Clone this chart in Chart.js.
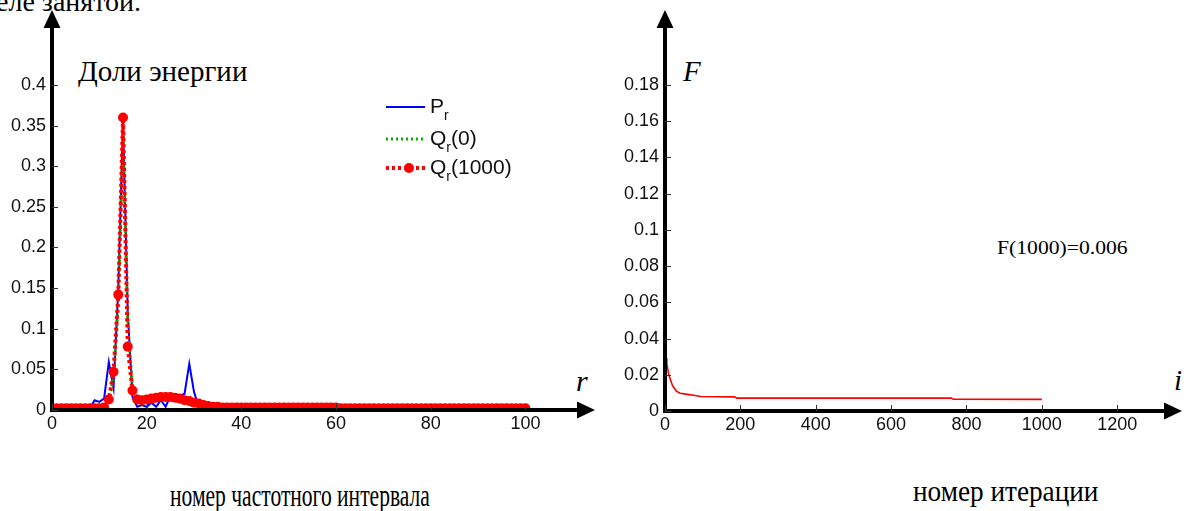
<!DOCTYPE html>
<html>
<head>
<meta charset="utf-8">
<script src="https://cdn.jsdelivr.net/npm/chart.js@4/dist/chart.umd.min.js"></script>
<style>
body { margin: 0; width: 1184px; height: 511px; background: #fff; position: relative; overflow: hidden; font-family: "Liberation Serif", serif; }
.t { position: absolute; white-space: nowrap; color: #000; line-height: 1; transform-origin: left top; }
canvas { position: absolute; top: 0; }
</style>
</head>
<body>
<div class="t" style="left:-4px;top:-12px;font-size:28px">еле занятой.</div>
<div class="t" style="left:78px;top:57px;font-size:29px">Доли энергии</div>
<div class="t" style="left:683px;top:57px;font-size:29px;font-style:italic">F</div>
<div class="t" style="left:576px;top:366px;font-size:30px;font-style:italic">r</div>
<div class="t" style="left:1174px;top:366px;font-size:29px;font-style:italic">i</div>
<div class="t" data-w="131" style="left:997px;top:238px;font-size:19px">F(1000)=0.006</div>
<div class="t" data-w="260" style="left:170px;top:479px;font-size:32px">номер частотного интервала</div>
<div class="t" data-w="185" style="left:913px;top:477px;font-size:29px">номер итерации</div>

<canvas id="energy" width="600" height="440" style="left:0"></canvas>
<canvas id="fconv" width="584" height="441" style="left:600px"></canvas>

<script>
// left chart: energy shares per frequency interval r
const rValues = Array.from({length: 100}, (_, i) => i + 1)

const pR = [
  0.001, 0.001, 0.001, 0.001, 0.002, 0.005, 0.003, 0.002, 0.012, 0.010,
  0.014, 0.059, 0.027, 0.150, 0.356, 0.120, 0.016, 0.004, 0.006, 0.004,
  0.009, 0.004, 0.012, 0.004, 0.017, 0.016, 0.017, 0.020, 0.057, 0.022,
  0.004, 0.002, 0.002, 0.001, 0.001, 0.001, 0.001, 0.001, 0.001, 0.001,
  0.001, 0.001, 0.001, 0.001, 0.001, 0.001, 0.001, 0.001, 0.001, 0.001,
  0.001, 0.001, 0.001, 0.001, 0.001, 0.001, 0.001, 0.001, 0.001, 0.001,
  0.001, 0.001, 0.001, 0.001, 0.001, 0.001, 0.001, 0.001, 0.001, 0.001,
  0.001, 0.001, 0.001, 0.001, 0.001, 0.001, 0.001, 0.001, 0.001, 0.001,
  0.001, 0.001, 0.001, 0.001, 0.001, 0.001, 0.001, 0.001, 0.001, 0.001,
  0.001, 0.001, 0.001, 0.001, 0.001, 0.001, 0.001, 0.001, 0.001, 0.001
]

const qR0 = [
  0.002, 0.002, 0.002, 0.002, 0.002, 0.002, 0.002, 0.002, 0.002, 0.002,
  0.004, 0.012, 0.040, 0.130, 0.340, 0.105, 0.030, 0.012, 0.012, 0.013,
  0.014, 0.015, 0.015, 0.015, 0.015, 0.014, 0.013, 0.011, 0.009, 0.007,
  0.006, 0.005, 0.004, 0.004, 0.003, 0.003, 0.003, 0.003, 0.003, 0.003,
  0.003, 0.003, 0.003, 0.003, 0.003, 0.003, 0.003, 0.003, 0.003, 0.003,
  0.002, 0.002, 0.002, 0.002, 0.002, 0.002, 0.002, 0.002, 0.002, 0.002,
  0.002, 0.002, 0.002, 0.002, 0.002, 0.002, 0.002, 0.002, 0.002, 0.002,
  0.002, 0.002, 0.002, 0.002, 0.002, 0.002, 0.002, 0.002, 0.002, 0.002,
  0.002, 0.002, 0.002, 0.002, 0.002, 0.002, 0.002, 0.002, 0.002, 0.002,
  0.002, 0.002, 0.002, 0.002, 0.002, 0.002, 0.002, 0.002, 0.002, 0.002
]

const qR1000 = [
  0.002, 0.002, 0.002, 0.002, 0.002, 0.002, 0.002, 0.002, 0.002, 0.002,
  0.003, 0.013, 0.047, 0.142, 0.360, 0.078, 0.024, 0.013, 0.012, 0.013,
  0.014, 0.015, 0.016, 0.016, 0.016, 0.015, 0.014, 0.012, 0.011, 0.009,
  0.008, 0.006, 0.005, 0.004, 0.004, 0.003, 0.003, 0.003, 0.003, 0.003,
  0.003, 0.003, 0.003, 0.003, 0.003, 0.003, 0.003, 0.003, 0.003, 0.003,
  0.003, 0.003, 0.003, 0.003, 0.003, 0.003, 0.003, 0.003, 0.003, 0.003,
  0.002, 0.002, 0.002, 0.002, 0.002, 0.002, 0.002, 0.002, 0.002, 0.002,
  0.002, 0.002, 0.002, 0.002, 0.002, 0.002, 0.002, 0.002, 0.002, 0.002,
  0.002, 0.002, 0.002, 0.002, 0.002, 0.002, 0.002, 0.002, 0.002, 0.002,
  0.002, 0.002, 0.002, 0.002, 0.002, 0.002, 0.002, 0.002, 0.002, 0.002
]

const energyXTicks = [0, 20, 40, 60, 80, 100]
const energyYTicks = [0, 0.05, 0.1, 0.15, 0.2, 0.25, 0.3, 0.35, 0.4]

// right chart: F over iterations
const iterations = [0, 1, 3, 5, 10, 15, 20, 30, 40, 60, 80, 95, 185, 190, 760, 765, 1000]
const fValues = [0.150, 0.032, 0.029, 0.026, 0.020, 0.017, 0.014, 0.011, 0.0098, 0.0092, 0.0086, 0.0080, 0.0078, 0.0071, 0.0071, 0.0065, 0.0064]

const fXTicks = [0, 200, 400, 600, 800, 1000, 1200]
const fYTicks = [0, 0.02, 0.04, 0.06, 0.08, 0.1, 0.12, 0.14, 0.16, 0.18]

Chart.defaults.font.family = '"Liberation Sans", Arial, sans-serif'
Chart.defaults.font.size = 18
Chart.defaults.color = '#111'

function toPoints(xs, ys) {
    return xs.map((x, i) => ({x: x, y: ys[i]}))
}

// black axes with arrows and small inward ticks
const arrowAxes = {
    id: 'arrowAxes',
    afterDatasetsDraw(chart) {
        const ctx = chart.ctx
        const a = chart.chartArea
        const L = a.left, B = a.bottom, T = a.top, R = a.right
        ctx.save()
        ctx.strokeStyle = '#000'
        ctx.fillStyle = '#000'
        ctx.lineWidth = 4
        ctx.beginPath()
        ctx.moveTo(L, B + 2)
        ctx.lineTo(L, T + 12)
        ctx.moveTo(L - 2, B)
        ctx.lineTo(R - 12, B)
        ctx.stroke()
        ctx.beginPath()
        ctx.moveTo(L, T)
        ctx.lineTo(L - 8.5, T + 18)
        ctx.lineTo(L + 8.5, T + 18)
        ctx.closePath()
        ctx.fill()
        ctx.beginPath()
        ctx.moveTo(R, B)
        ctx.lineTo(R - 18, B - 8.5)
        ctx.lineTo(R - 18, B + 8.5)
        ctx.closePath()
        ctx.fill()
        ctx.lineWidth = 1
        ctx.strokeStyle = '#333'
        ctx.beginPath()
        chart.scales.y.ticks.forEach(t => {
            const y = Math.round(chart.scales.y.getPixelForValue(t.value)) + 0.5
            ctx.moveTo(L, y)
            ctx.lineTo(L + 6, y)
        })
        chart.scales.x.ticks.forEach(t => {
            const x = Math.round(chart.scales.x.getPixelForValue(t.value)) + 0.5
            ctx.moveTo(x, B)
            ctx.lineTo(x, B - 6)
        })
        ctx.stroke()
        ctx.restore()
    }
}

// legend with subscripts, left chart only
const subLegend = {
    id: 'subLegend',
    afterDraw(chart) {
        if (chart.canvas.id !== 'energy') return
        const ctx = chart.ctx
        const rows = [
            {y: 107, main: 'P', sub: 'r', tail: ''},
            {y: 139, main: 'Q', sub: 'r', tail: '(0)'},
            {y: 168, main: 'Q', sub: 'r', tail: '(1000)'}
        ]
        ctx.save()
        rows.forEach((row, i) => {
            const ds = chart.data.datasets[i]
            ctx.strokeStyle = ds.borderColor
            ctx.lineWidth = ds.borderWidth
            ctx.setLineDash(ds.borderDash || [])
            ctx.beginPath()
            ctx.moveTo(386, row.y)
            ctx.lineTo(425, row.y)
            ctx.stroke()
            ctx.setLineDash([])
            if (ds.pointRadius > 0) {
                ctx.fillStyle = ds.pointBackgroundColor
                ctx.beginPath()
                ctx.arc(409, row.y, ds.pointRadius, 0, Math.PI * 2)
                ctx.fill()
            }
            ctx.fillStyle = '#111'
            ctx.textBaseline = 'alphabetic'
            ctx.font = '21px "Liberation Sans", Arial, sans-serif'
            ctx.fillText(row.main, 430, row.y + 6)
            let x = 430 + ctx.measureText(row.main).width
            ctx.font = '14px "Liberation Sans", Arial, sans-serif'
            ctx.fillText(row.sub, x, row.y + 13)
            x += ctx.measureText(row.sub).width
            ctx.font = '21px "Liberation Sans", Arial, sans-serif'
            ctx.fillText(row.tail, x, row.y + 6)
        })
        ctx.restore()
    }
}

function axisOptions(max, ticks, width, height) {
    return {
        x: {
            type: 'linear', min: 0, max: max[0],
            grid: {display: false, drawTicks: false}, border: {display: false},
            ticks: {padding: 3, callback: v => String(v)},
            afterBuildTicks: s => { s.ticks = ticks[0].map(v => ({value: v})) },
            afterFit: s => { s.height = height; s.paddingLeft = 0; s.paddingRight = 0 }
        },
        y: {
            type: 'linear', min: 0, max: max[1],
            grid: {display: false, drawTicks: false}, border: {display: false},
            ticks: {padding: 6, callback: v => String(v)},
            afterBuildTicks: s => { s.ticks = ticks[1].map(v => ({value: v})) },
            afterFit: s => { s.width = width; s.paddingTop = 0; s.paddingBottom = 0 }
        }
    }
}

new Chart(document.getElementById('energy'), {
    type: 'line',
    data: {
        datasets: [
            {
                label: 'Pr', data: toPoints(rValues, pR),
                borderColor: '#0000ff', borderWidth: 2, pointRadius: 0, order: 3
            },
            {
                label: 'Qr(0)', data: toPoints(rValues, qR0),
                borderColor: '#00b000', borderWidth: 3, borderDash: [2, 3], pointRadius: 0, order: 2
            },
            {
                label: 'Qr(1000)', data: toPoints(rValues, qR1000),
                borderColor: '#ff0000', borderWidth: 4, borderDash: [3, 3],
                pointRadius: 5, pointBackgroundColor: '#ff0000', pointBorderWidth: 0, order: 1
            }
        ]
    },
    options: {
        responsive: false,
        animation: false,
        layout: {padding: {top: 10, right: 2, left: 0, bottom: 0}},
        plugins: {legend: {display: false}, tooltip: {enabled: false}},
        scales: axisOptions([114.7, 0.4923], [energyXTicks, energyYTicks], 52, 30)
    },
    plugins: [arrowAxes, subLegend]
})

new Chart(document.getElementById('fconv'), {
    type: 'line',
    data: {
        datasets: [{
            label: 'F', data: toPoints(iterations, fValues),
            borderColor: '#ff0000', borderWidth: 1.6, pointRadius: 0
        }]
    },
    options: {
        responsive: false,
        animation: false,
        layout: {padding: {top: 10, right: 2, left: 0, bottom: 0}},
        plugins: {legend: {display: false}, tooltip: {enabled: false}},
        scales: axisOptions([1372, 0.2214], [fXTicks, fYTicks], 65, 30)
    },
    plugins: [arrowAxes]
})

// squeeze the condensed captions to their width in the picture
document.querySelectorAll('[data-w]').forEach(el => {
    const k = Number(el.dataset.w) / el.offsetWidth
    el.style.transform = 'scaleX(' + k + ')'
})
</script>
</body>
</html>
